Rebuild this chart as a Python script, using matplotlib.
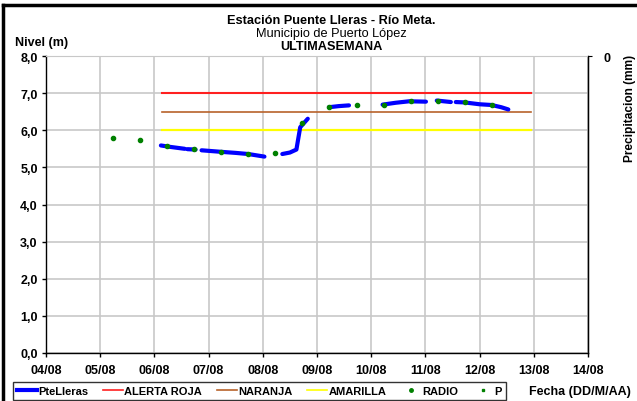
import numpy as np
import matplotlib
matplotlib.use("Agg")
import matplotlib.pyplot as plt
from matplotlib.lines import Line2D

plt.rcParams["font.family"] = ["Liberation Sans", "DejaVu Sans"]

# days counted from 04/08 00:00
day_labels = ["04/08", "05/08", "06/08", "07/08", "08/08", "09/08",
              "10/08", "11/08", "12/08", "13/08", "14/08"]

# nivel PteLleras (NaN = gap in the record)
nivel_t = [2.12, 2.30, 2.56, np.nan, 2.61, 2.76, np.nan,
           2.87, 3.22, 3.50, 3.73, 4.03, np.nan,
           4.36, 4.50, 4.62, 4.69, 4.75, 4.83, np.nan,
           5.22, 5.40, 5.59, np.nan,
           6.21, 6.45, 6.70, 7.01, np.nan,
           7.21, 7.47, np.nan,
           7.56, 7.72, 8.00, 8.22, 8.40, 8.53]
nivel_v = [5.59, 5.55, 5.50, np.nan, 5.49, 5.48, np.nan,
           5.46, 5.42, 5.39, 5.36, 5.29, np.nan,
           5.36, 5.40, 5.48, 6.08, 6.18, 6.31, np.nan,
           6.62, 6.65, 6.67, np.nan,
           6.69, 6.74, 6.78, 6.77, np.nan,
           6.80, 6.76, np.nan,
           6.76, 6.75, 6.70, 6.68, 6.62, 6.56]

# lecturas radio
radio_t = [1.23, 1.73, 2.23, 2.73, 3.23, 3.73, 4.23, 4.73,
           5.23, 5.73, 6.23, 6.73, 7.23, 7.73, 8.23]
radio_v = [5.79, 5.73, 5.57, 5.49, 5.42, 5.36, 5.38, 6.19,
           6.62, 6.68, 6.69, 6.78, 6.80, 6.75, 6.68]

# precipitacion (no data)
p_t = []
p_v = []

# alert thresholds
alert_span = [2.14, 8.95]
roja = 7.0
naranja = 6.5
amarilla = 6.0

fig = plt.figure(figsize=(6.37, 4.02), dpi=100)
ax = fig.add_axes([46 / 637, 1 - 354 / 402, 542 / 637, 297 / 402])

ax.set_xlim(0, 10)
ax.set_ylim(0, 8)
ax.set_xticks(range(len(day_labels)))
ax.set_xticklabels(day_labels, fontsize=9, fontweight="bold")
ax.set_yticks(range(9))
ax.set_yticklabels([f"{v},0" for v in range(9)], fontsize=9, fontweight="bold")
ax.grid(True, color="#c8c8c8", lw=1.2)
ax.set_axisbelow(True)
ax.tick_params(length=3, width=1, pad=3)
ax.tick_params(axis="x", pad=5)
for s in ["left", "bottom"]:
    ax.spines[s].set_linewidth(1.0)
ax.spines["top"].set_color("#c8c8c8")
ax.spines["right"].set_linewidth(1.0)

ax.plot(alert_span, [roja, roja], color="#ff2020", lw=1.5, label="ALERTA ROJA")
ax.plot(alert_span, [naranja, naranja], color="#b8622a", lw=1.2, label="NARANJA")
ax.plot(alert_span, [amarilla, amarilla], color="#ffff00", lw=1.6, label="AMARILLA")
ax.plot(nivel_t, nivel_v, color="#0000ff", lw=3, solid_capstyle="round",
        label="PteLleras")
ax.plot(radio_t, radio_v, ls="none", marker="o", ms=3, color="#008000",
        label="RADIO")

ax2 = ax.twinx()
ax2.set_ylim(10, 0)
ax2.set_yticks([0])
ax2.set_yticklabels(["0"], fontsize=9, fontweight="bold")
ax2.tick_params(length=3, pad=8)
ax2.plot(p_t, p_v, ls="none", marker="s", ms=2, color="#008000", label="P")
for s in ["top", "left", "bottom"]:
    ax2.spines[s].set_visible(False)

fig.text(331 / 637, 1 - 21 / 402, "Estación Puente Lleras - Río Meta.",
         ha="center", va="center", fontsize=9.2, fontweight="bold")
fig.text(331 / 637, 1 - 34 / 402, "Municipio de Puerto López",
         ha="center", va="center", fontsize=9.2)
fig.text(331 / 637, 1 - 47 / 402, "ULTIMASEMANA",
         ha="center", va="center", fontsize=9.2, fontweight="bold")
fig.text(15 / 637, 1 - 43 / 402, "Nivel (m)", ha="left", va="center",
         fontsize=9, fontweight="bold")
fig.text(630 / 637, 1 - 55 / 402, "Precipitacion (mm)", ha="center", va="top",
         rotation=90, fontsize=8.6, fontweight="bold")
fig.text(580 / 637, 1 - 392 / 402, "Fecha (DD/M/AA)", ha="center",
         va="center", fontsize=9, fontweight="bold")

handles = [
    Line2D([], [], color="#0000ff", lw=3),
    Line2D([], [], color="#ff2020", lw=1.2),
    Line2D([], [], color="#b8622a", lw=1.2),
    Line2D([], [], color="#ffff00", lw=1.2),
    Line2D([], [], ls="none", marker="o", ms=2.5, color="#008000"),
    Line2D([], [], ls="none", marker="s", ms=1.8, color="#008000"),
]
labels = ["PteLleras", "ALERTA ROJA", "NARANJA", "AMARILLA", "RADIO", "P"]
leg = fig.legend(handles, labels, ncol=6, loc="upper left",
                 bbox_to_anchor=(13 / 637, 1 - 383 / 402),
                 prop={"size": 8, "weight": "bold"}, frameon=True,
                 fancybox=False, edgecolor="black", handlelength=1.8,
                 handletextpad=0.1, columnspacing=1.35, borderpad=0.35,
                 borderaxespad=0)
leg.get_frame().set_linewidth(1.0)

# outer chart frame (top and left edges visible)
fig.add_artist(Line2D([0.004, 1], [1 - 6 / 402, 1 - 6 / 402], color="black",
                      lw=2.5, transform=fig.transFigure))
fig.add_artist(Line2D([3 / 637, 3 / 637], [0, 1 - 6 / 402], color="black",
                      lw=2.5, transform=fig.transFigure))

fig.savefig("out.png", dpi=100)
